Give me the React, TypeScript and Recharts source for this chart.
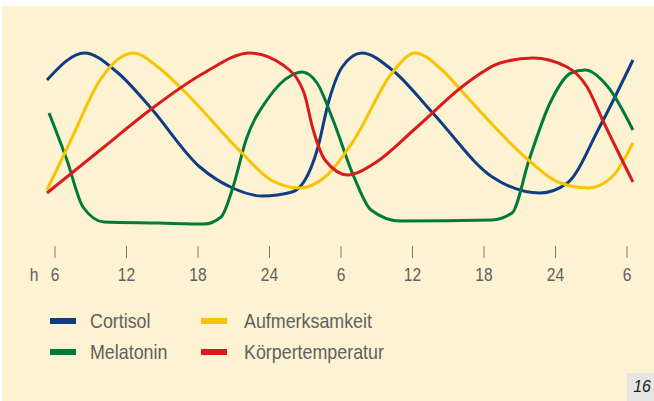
import { LineChart, Line, XAxis, YAxis } from "recharts"

const SANS = '"Liberation Sans", Arial, sans-serif'
const INK = "#606060"
// the original uses a condensed face; squeeze Liberation Sans horizontally instead
const SQUEEZE = 0.82

// hours since 0:00 of day one (6 = 6 Uhr, 30 = 6 Uhr next day)
const HOUR_TICKS = [6, 12, 18, 24, 30, 36, 42, 48, 54]
const HOUR_LABELS = ["6", "12", "18", "24", "6", "12", "18", "24", "6"]

const cortisol = [
  { h: 5.33, v: 160 }, { h: 8.48, v: 187 }, { h: 11.2, v: 168 }, { h: 13.97, v: 133 },
  { h: 18.16, v: 73 }, { h: 20.9, v: 52 }, { h: 23.4, v: 44 }, { h: 25.9, v: 48 },
  { h: 28.0, v: 90 }, { h: 29.0, v: 140 }, { h: 30.1, v: 173 }, { h: 31.75, v: 187 },
  { h: 34.3, v: 170 }, { h: 37.7, v: 127 }, { h: 42.7, v: 63 }, { h: 46.7, v: 47 },
  { h: 49.0, v: 57 }, { h: 51.7, v: 113 }, { h: 54.5, v: 180 },
]

const aufmerksamkeit = [
  { h: 5.33, v: 50 }, { h: 7.34, v: 100 }, { h: 9.78, v: 160 }, { h: 12.55, v: 187 },
  { h: 14.64, v: 173 }, { h: 16.74, v: 150 }, { h: 21.69, v: 87 }, { h: 24.12, v: 60 },
  { h: 26.56, v: 52 }, { h: 28.66, v: 63 }, { h: 31.09, v: 100 }, { h: 34.28, v: 167 },
  { h: 36.21, v: 187 }, { h: 38.48, v: 170 }, { h: 40.57, v: 143 }, { h: 45.44, v: 83 },
  { h: 48.21, v: 58 }, { h: 50.73, v: 52 }, { h: 52.74, v: 63 }, { h: 54.5, v: 97 },
]

const melatonin = [
  { h: 5.5, v: 127 }, { h: 7.0, v: 80 }, { h: 8.35, v: 33 }, { h: 10.11, v: 18 },
  { h: 14.64, v: 17 }, { h: 18.5, v: 16 }, { h: 19.93, v: 23 }, { h: 20.94, v: 53 },
  { h: 22.03, v: 100 }, { h: 23.79, v: 140 }, { h: 25.89, v: 165 }, { h: 26.73, v: 168 },
  { h: 27.99, v: 157 }, { h: 29.33, v: 120 }, { h: 31.09, v: 63 }, { h: 32.52, v: 30 },
  { h: 34.95, v: 19 }, { h: 42.67, v: 20 }, { h: 44.35, v: 27 }, { h: 45.78, v: 80 },
  { h: 47.54, v: 137 }, { h: 49.3, v: 167 }, { h: 50.48, v: 170 }, { h: 52.41, v: 153 },
  { h: 54.5, v: 110 },
]

const koerpertemperatur = [
  { h: 5.33, v: 47 }, { h: 10.11, v: 93 }, { h: 13.97, v: 130 }, { h: 18.5, v: 167 },
  { h: 22.36, v: 187 }, { h: 25.13, v: 175 }, { h: 26.9, v: 147 }, { h: 27.6, v: 113 },
  { h: 28.66, v: 80 }, { h: 30.59, v: 65 }, { h: 32.85, v: 77 }, { h: 36.38, v: 113 },
  { h: 40.57, v: 157 }, { h: 43.34, v: 177 }, { h: 46.1, v: 182 }, { h: 48.97, v: 173 },
  { h: 50.65, v: 153 }, { h: 52.07, v: 117 }, { h: 54.5, v: 58 },
]

const SERIES = [
  { name: "Cortisol", color: "#0f3d85", data: cortisol },
  { name: "Melatonin", color: "#007a3b", data: melatonin },
  { name: "Aufmerksamkeit", color: "#f8c300", data: aufmerksamkeit },
  { name: "Körpertemperatur", color: "#d91b1d", data: koerpertemperatur },
]

// legend is laid out in two columns: [Cortisol, Melatonin] [Aufmerksamkeit, Körpertemperatur]
const LEGEND_COLUMNS = [
  ["Cortisol", "Melatonin"],
  ["Aufmerksamkeit", "Körpertemperatur"],
]

function HourTick(props: any) {
  const { x, y, index } = props
  return (
    <g>
      {index === 0 && (
        <text
          transform={`translate(${x - 21},${y}) scale(${SQUEEZE},1)`}
          dy={21}
          textAnchor="middle"
          fill={INK}
          fontSize={19}
          fontFamily={SANS}
        >
          h
        </text>
      )}
      <text
        transform={`translate(${x},${y}) scale(${SQUEEZE},1)`}
        dy={21}
        textAnchor="middle"
        fill={INK}
        fontSize={19}
        fontFamily={SANS}
      >
        {HOUR_LABELS[index]}
      </text>
    </g>
  )
}

export default function App() {
  return (
    <div style={{ position: "absolute", left: 0, top: 0, width: 654, height: 401, background: "#fff", overflow: "hidden" }}>
      <div style={{ position: "absolute", left: 2, top: 6, right: 0, bottom: 0, background: "#fdf3d3" }} />

      <div style={{ position: "absolute", left: 0, top: 0 }}>
        <LineChart width={654} height={300} margin={{ top: 40, right: 21.04, left: 46.66, bottom: 0 }}>
          <XAxis
            type="number"
            dataKey="h"
            domain={[5.3, 54.5]}
            ticks={HOUR_TICKS}
            allowDuplicatedCategory={false}
            axisLine={false}
            tickLine={{ stroke: "#7a7a7a", strokeWidth: 1 }}
            tickSize={12}
            tick={<HourTick />}
            height={54}
            interval={0}
          />
          <YAxis hide type="number" domain={[-6, 200]} />
          {SERIES.map((s) => (
            <Line
              key={s.name}
              data={s.data}
              dataKey="v"
              name={s.name}
              type="monotone"
              stroke={s.color}
              strokeWidth={3}
              dot={false}
              activeDot={false}
              isAnimationActive={false}
            />
          ))}
        </LineChart>
      </div>

      {LEGEND_COLUMNS.map((col, ci) =>
        col.map((name, ri) => {
          const s = SERIES.find((d) => d.name === name)!
          const left = ci === 0 ? 50 : 201
          const top = ri === 0 ? 308 : 339
          return (
            <div key={name} style={{ position: "absolute", left, top, height: 26, display: "flex", alignItems: "center" }}>
              <span style={{ display: "inline-block", width: 26, height: 6, background: s.color }} />
              <span
                style={{
                  marginLeft: ci === 0 ? 14 : 17,
                  fontFamily: SANS,
                  fontSize: 21,
                  color: INK,
                  lineHeight: "26px",
                  display: "inline-block",
                  transform: "scaleX(0.85)",
                  transformOrigin: "left center",
                  whiteSpace: "nowrap",
                }}
              >
                {name}
              </span>
            </div>
          )
        })
      )}

      <div
        style={{
          position: "absolute",
          left: 627,
          top: 373,
          width: 27,
          height: 28,
          background: "#e6e6e4",
          fontFamily: SANS,
          fontStyle: "italic",
          fontSize: 16,
          color: "#222",
          lineHeight: "28px",
          textAlign: "right",
          paddingRight: 3,
          boxSizing: "border-box",
        }}
      >
        16
      </div>
    </div>
  )
}
